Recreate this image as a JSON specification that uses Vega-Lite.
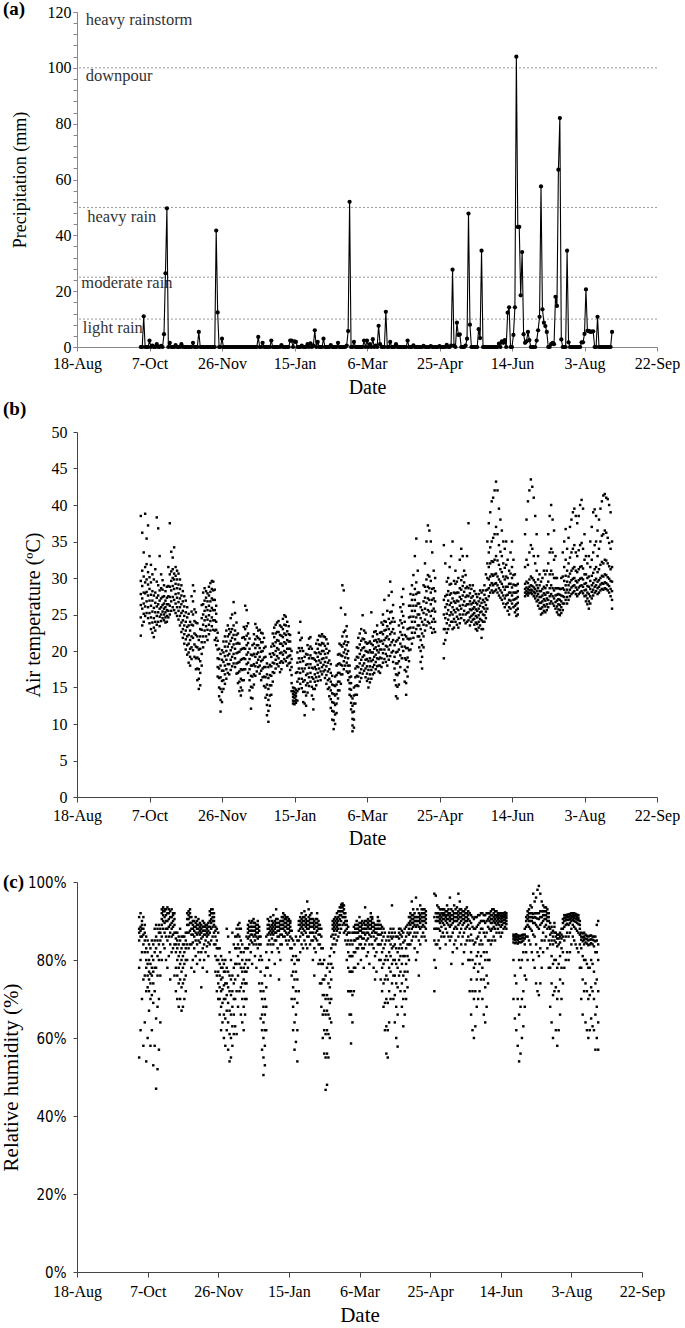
{
"$schema":"https://vega.github.io/schema/vega-lite/v6.json",
"background":"white",
"padding":{"left":0,"top":0,"right":2,"bottom":0},
"spacing":85,
"bounds":"flush",
"config":{"view":{"stroke":null},"font":"Liberation Serif","axis":{"grid":false,"labelFont":"Liberation Serif","titleFont":"Liberation Serif","titleFontWeight":"normal","labelColor":"#000","titleColor":"#000","labelFlush":false,"labelOverlap":false}},
"datasets":{
"lev":[{"v":10},{"v":25},{"v":50},{"v":100}],
"lab":[{"name":"heavy rainstorm","v":117,"d":"2014-08-24"},{"name":"downpour","v":97,"d":"2014-08-24"},{"name":"heavy rain","v":46.7,"d":"2014-08-25"},{"name":"moderate rain","v":22.8,"d":"2014-08-21"},{"name":"light rain","v":6.7,"d":"2014-08-22"}],
"days":[
{"d":"2014-10-01","p":0,"t":[22.1,24.6,26.3,27.8,29.6,38.5],"h":[55,78,85,87,88,91]},
{"d":"2014-10-02","p":0,"t":[23.5,25.8,27.2,28.9,31,36.2],"h":[62,80,86,87.5,88.5,92]},
{"d":"2014-10-03","p":11,"t":[24,25.1,26.5,28,30.2,33.5],"h":[70,82,86,88,89,90]},
{"d":"2014-10-04","p":0,"t":[24.8,26.1,27.9,29.4,31.5,38.8],"h":[58,75,84,86.5,88,91]},
{"d":"2014-10-05","p":0,"t":[25.2,26.8,28.1,29.8,31.9,35.4],"h":[64,76,82,85,87,89]},
{"d":"2014-10-06","p":0,"t":[24.5,26,27.6,29.1,30.8,37.2],"h":[54,72,78,80,83,86]},
{"d":"2014-10-07","p":2.3,"t":[23.8,25.2,26.9,28.5,30.1,33],"h":[60,73,76,79,82,85]},
{"d":"2014-10-08","p":0,"t":[23,24.6,26.2,27.7,29.4,31.8],"h":[67,72,75,77,80,84]},
{"d":"2014-10-09","p":0.5,"t":[22.5,23.9,25.4,26.9,28.2,30.5],"h":[58,70,74,76.5,79,83]},
{"d":"2014-10-10","p":0,"t":[21.9,23.2,24.5,25.9,27.6,29.8],"h":[62,71,76,78,81,85]},
{"d":"2014-10-11","p":0,"t":[22.8,24,25.3,26.6,28,31.2],"h":[53,69,74,77,80,84]},
{"d":"2014-10-12","p":1,"t":[23.6,24.8,26.1,27.3,29.5,38.3],"h":[58,72,78,82,85,88]},
{"d":"2014-10-13","p":0,"t":[24,25.3,26.4,27.6,29,36.8],"h":[47,65,78,83,86,89]},
{"d":"2014-10-14","p":0,"t":[23.4,24.7,25.8,26.9,28.3,33],"h":[52,68,76,81,85,88]},
{"d":"2014-10-15","p":0.4,"t":[24.1,25,26,27.2,28.6,30.5],"h":[57,70,80,84,87,89]},
{"d":"2014-10-16","p":0,"t":[24.5,25.4,26.3,27.4,28.4,29.7],"h":[64,76,82,85,87,88]},
{"d":"2014-10-17","p":4.6,"t":[24.2,25,25.8,26.5,27.5,29],"h":[80,86,89,90.5,92,93]},
{"d":"2014-10-18","p":26.4,"t":[23.9,24.6,25.3,26,26.9,28.2],"h":[84,88,90,91.5,92.5,93.5]},
{"d":"2014-10-19","p":49.7,"t":[24,24.8,25.6,26.4,27.3,28.8],"h":[83,87,89.5,91,92.5,93]},
{"d":"2014-10-20","p":0,"t":[24.6,25.5,26.4,27.5,28.9,31.5],"h":[80,86,88,90,91.5,93]},
{"d":"2014-10-21","p":1.5,"t":[25,26.2,27.4,28.8,30.5,37.5],"h":[78,85,88,90,92,93.5]},
{"d":"2014-10-22","p":0,"t":[25.5,26.8,28.3,29.6,30.9,33.6],"h":[81,86,88.5,90.5,92,93]},
{"d":"2014-10-23","p":0,"t":[26,27.4,28.9,30,31.2,32.8],"h":[75,84,87,89,91,92.5]},
{"d":"2014-10-24","p":0,"t":[25.6,27,28.5,29.8,30.6,34.2],"h":[82,86,88,89.5,91,93]},
{"d":"2014-10-25","p":0.7,"t":[25.2,26.5,27.8,29.2,30.3,31.5],"h":[83,86.5,88.5,90,91.5,92]},
{"d":"2014-10-26","p":0,"t":[24.8,26,27.3,28.6,29.8,31],"h":[76,84,87,89,90.5,92]},
{"d":"2014-10-27","p":0,"t":[24.3,25.5,26.7,27.9,29.1,30.6],"h":[72,78,82,84,85.5,87]},
{"d":"2014-10-28","p":0,"t":[23.5,24.8,26,27.2,28.5,29.8],"h":[70,76,80,83,85,87]},
{"d":"2014-10-29","p":1,"t":[22.6,23.9,25.2,26.4,27.6,29],"h":[68,74,78,81,84,86]},
{"d":"2014-10-30","p":0,"t":[21.8,23,24.2,25.5,26.8,28.2],"h":[70,75,79,82,85,88]},
{"d":"2014-10-31","p":0,"t":[21,22.3,23.5,24.8,26.1,27.5],"h":[67,73,77,80,83,86]},
{"d":"2014-11-01","p":0,"t":[20.2,21.6,22.8,24,25.3,26.9],"h":[68,74,78,81,84,86]},
{"d":"2014-11-02","p":0,"t":[19.5,20.8,22,23.3,24.6,26],"h":[70,75,79,82,84,86]},
{"d":"2014-11-03","p":0,"t":[18.4,19.8,21,22.2,23.5,25.1],"h":[72,76,80,83,85,87]},
{"d":"2014-11-04","p":0,"t":[18,19.2,20.3,21.5,22.8,24],"h":[80,84,87,89,90.5,92]},
{"d":"2014-11-05","p":0,"t":[18.9,20.5,22,23.6,25.4,27.5],"h":[83,87,89,90.5,91.5,92.5]},
{"d":"2014-11-06","p":1.5,"t":[20.1,21.8,23.5,25,26.8,29],"h":[84,87.5,89.5,91,92,93]},
{"d":"2014-11-07","p":0,"t":[19.2,20.9,22.4,24.1,25.7,28.2],"h":[78,84,86.5,88,89.5,91]},
{"d":"2014-11-08","p":0,"t":[17.5,19,20.6,22.2,23.9,25.3],"h":[80,84.5,86.5,88,89,90]},
{"d":"2014-11-09","p":0,"t":[16,17.6,19.1,20.5,22,23.8],"h":[77,83,86,87.5,88.5,90]},
{"d":"2014-11-10","p":5.4,"t":[14.8,16.2,17.5,18.9,20.2,21.5],"h":[81,85,87,88.5,89.5,91]},
{"d":"2014-11-11","p":0,"t":[15.3,17,18.6,20.3,22,23],"h":[79,84,86.5,88,89,90]},
{"d":"2014-11-12","p":0,"t":[18,19.6,21.2,22.9,24.5,26.3],"h":[82,85,87,88,89,90.5]},
{"d":"2014-11-13","p":0,"t":[20.5,22,23.6,25,26.4,28],"h":[80,84.5,86.5,87.5,88.5,89.5]},
{"d":"2014-11-14","p":0,"t":[21.2,22.8,24.2,25.5,26.9,28.6],"h":[73,82,85.5,87,88,89]},
{"d":"2014-11-15","p":0,"t":[22,23.4,24.7,26,27.3,28.2],"h":[78,83,86,87.5,88.5,90]},
{"d":"2014-11-16","p":0,"t":[21.5,22.9,24.3,25.6,26.8,27.9],"h":[80,84,86.5,87.5,88.5,89.5]},
{"d":"2014-11-17","p":0,"t":[22.3,23.6,24.9,26.2,27.6,28.8],"h":[82,85,86.5,87.5,88.5,89]},
{"d":"2014-11-18","p":0,"t":[22.8,24.1,25.5,26.8,28.1,29.3],"h":[77,83.5,86,87,88,89]},
{"d":"2014-11-19","p":0,"t":[23.4,24.6,25.9,27.2,28.5,29.6],"h":[81,84.5,86.5,87.5,88.5,89.5]},
{"d":"2014-11-20","p":0,"t":[22.9,24.2,25.6,27,28.3,29.5],"h":[84,87,88.5,90,91.5,92.5]},
{"d":"2014-11-21","p":0,"t":[21.5,22.8,24.2,25.6,27,28.4],"h":[85,88,89.5,90.5,92,93]},
{"d":"2014-11-22","p":41.7,"t":[20.8,21.8,22.9,24,25.1,26.2],"h":[86,88.5,90,91,92,93]},
{"d":"2014-11-23","p":12.4,"t":[16.5,17.8,19,20.2,21.4,22.5],"h":[84,87,89,90,91,92]},
{"d":"2014-11-24","p":0,"t":[13.8,15,16.3,17.6,18.9,20.3],"h":[77,81,84,86,87.5,88.5]},
{"d":"2014-11-25","p":0,"t":[11.7,13.3,14.8,16.4,18,19.6],"h":[72,76,80,83,85,88]},
{"d":"2014-11-26","p":3,"t":[13,14.4,15.9,17.3,18.8,20.1],"h":[70,74,77,80,83,87]},
{"d":"2014-11-27","p":0,"t":[14.8,16,17.3,18.5,19.8,21.3],"h":[66,70,73,76,79,83]},
{"d":"2014-11-28","p":0,"t":[15.5,16.8,18,19.3,20.6,22],"h":[62,68,72,75,78,81]},
{"d":"2014-11-29","p":0,"t":[16.2,17.5,18.8,20,21.3,22.8],"h":[64,69,72.5,75.5,78,80]},
{"d":"2014-11-30","p":0,"t":[17,18.2,19.4,20.6,22,23.5],"h":[60,66,70,73.5,77,79]},
{"d":"2014-12-01","p":0,"t":[16.8,18.2,19.6,21,22.3,23],"h":[58,65,70,74,77,80]},
{"d":"2014-12-02","p":0,"t":[17.4,18.8,20.1,21.4,22.6,24.5],"h":[62,67,71,74,78,88]},
{"d":"2014-12-03","p":0,"t":[17.9,19.2,20.5,21.8,23,25],"h":[57,64,69,73,77,86]},
{"d":"2014-12-04","p":0,"t":[18.3,19.6,20.9,22.2,23.5,26.7],"h":[54,61,67,72,76,82]},
{"d":"2014-12-05","p":0,"t":[17.8,19,20.3,21.6,22.8,25.2],"h":[55,60,66,71,75,80]},
{"d":"2014-12-06","p":0,"t":[16.9,18.3,19.7,21,22.2,23.9],"h":[58,63,68,72,76,87]},
{"d":"2014-12-07","p":0,"t":[15.6,17,18.4,19.8,21.1,22.4],"h":[61,66,70,74,78,84]},
{"d":"2014-12-08","p":0,"t":[14.5,15.8,17.2,18.5,19.9,21],"h":[63,70,75,79,83,86]},
{"d":"2014-12-09","p":0,"t":[13.9,15,16.2,17.5,18.8,20.2],"h":[61,72,79,83,86,88]},
{"d":"2014-12-10","p":0,"t":[14.6,16,17.4,18.9,20.3,21.8],"h":[68,76,81,84,86.5,89]},
{"d":"2014-12-11","p":0,"t":[16,17.5,19,20.4,21.9,23.3],"h":[72,79,83,86,88,89.5]},
{"d":"2014-12-12","p":0,"t":[17.5,18.9,20.3,21.6,23,26.2],"h":[66,73,78,82,85,88]},
{"d":"2014-12-13","p":0,"t":[18.2,19.5,20.8,22.1,23.4,25.6],"h":[64,70,74,77,80,84]},
{"d":"2014-12-14","p":0,"t":[17,18.4,19.8,21.1,22.4,23.8],"h":[62,68,72,75,78,82]},
{"d":"2014-12-15","p":0,"t":[14.6,16,17.5,18.9,20.3,21.7],"h":[66,70,74,77,79,83]},
{"d":"2014-12-16","p":0,"t":[12.1,13.6,15.1,16.6,18,19.5],"h":[70,74,77,80,83,86]},
{"d":"2014-12-17","p":0,"t":[13.5,15,16.5,18,19.4,20.8],"h":[78,83,85.5,87,88,89]},
{"d":"2014-12-18","p":0,"t":[15.4,16.8,18.2,19.6,21,22.3],"h":[80,84,86,87.5,88.5,90]},
{"d":"2014-12-19","p":0,"t":[16.6,17.9,19.2,20.4,21.6,23.7],"h":[82,85,86.5,87.5,88.5,89.5]},
{"d":"2014-12-20","p":0,"t":[17.2,18.4,19.6,20.8,22,23.2],"h":[79,84.5,86.5,87.5,88.5,90]},
{"d":"2014-12-21","p":3.6,"t":[17.8,18.8,19.8,20.8,21.8,22.8],"h":[84,86,87.5,88.5,89.5,90.5]},
{"d":"2014-12-22","p":0,"t":[16.9,18,19.2,20.4,21.6,22.9],"h":[81,85,86.5,87.5,88.5,89.5]},
{"d":"2014-12-23","p":0,"t":[16,17.3,18.6,19.9,21.2,22.5],"h":[78,84,86,87,88,89]},
{"d":"2014-12-24","p":1.5,"t":[16.4,17.6,18.8,20,21.2,22.4],"h":[83,85.5,87,88,89,90]},
{"d":"2014-12-25","p":0,"t":[15.2,16.5,17.8,19.1,20.4,21.8],"h":[74,80,84,86,87.5,88.5]},
{"d":"2014-12-26","p":0,"t":[13.6,15,16.4,17.8,19.2,20.6],"h":[65,72,77,81,84,86]},
{"d":"2014-12-27","p":0,"t":[11.2,12.6,14,15.4,16.8,18.3],"h":[57,62,66,70,74,80]},
{"d":"2014-12-28","p":0,"t":[10.3,11.8,13.3,14.8,16.3,17.8],"h":[50.5,55,60,64,68,72]},
{"d":"2014-12-29","p":0,"t":[12.5,13.9,15.3,16.7,18.1,19.6],"h":[53,58,62,66,70,76]},
{"d":"2014-12-30","p":2.3,"t":[14,15.3,16.6,17.9,19.2,20.6],"h":[62,68,73,78,82,86]},
{"d":"2014-12-31","p":0,"t":[15.8,17.1,18.4,19.7,21,22.4],"h":[78,84,86.5,88,89,90.5]},
{"d":"2015-01-01","p":0,"t":[17,18.3,19.5,20.7,21.9,23.2],"h":[80,85,87,88,89,90]},
{"d":"2015-01-02","p":0,"t":[17.6,18.8,20,21.2,22.4,23.6],"h":[76,84,86.5,87.5,88.5,91]},
{"d":"2015-01-03","p":0,"t":[18.2,19.3,20.4,21.5,22.6,23.9],"h":[82,85.5,87,88,89,90]},
{"d":"2015-01-04","p":0,"t":[17.9,19,20.2,21.4,22.6,24.1],"h":[84,86.5,87.5,88.5,89.5,91.5]},
{"d":"2015-01-05","p":0,"t":[17.1,18.4,19.7,21,22.2,23.5],"h":[79,85,87,88,89,90]},
{"d":"2015-01-06","p":0.7,"t":[17.5,18.6,19.8,21,22.1,23.3],"h":[85,87,88.5,89.5,90.5,93]},
{"d":"2015-01-07","p":0,"t":[18.4,19.5,20.7,21.9,23,24.4],"h":[83,86,87.5,88.5,89.5,90.5]},
{"d":"2015-01-08","p":0,"t":[18.9,20,21.2,22.4,23.6,24.9],"h":[75,82,86,87.5,88.5,89.5]},
{"d":"2015-01-09","p":0,"t":[18.6,19.8,21,22.2,23.5,24.7],"h":[80,84,86.5,88,89,90]},
{"d":"2015-01-10","p":0,"t":[18,19.1,20.3,21.5,22.7,24],"h":[84,86.5,88,89,90,91]},
{"d":"2015-01-11","p":0,"t":[18.3,19.3,20.3,21.3,22.3,23.4],"h":[86,88,89,90,91,92]},
{"d":"2015-01-12","p":2.3,"t":[17.4,18.4,19.4,20.3,21.3,22.2],"h":[86,87.5,88.5,89.5,90.5,91.5]},
{"d":"2015-01-13","p":2.3,"t":[14.5,15.6,16.7,17.8,18.9,20],"h":[85,87,88.5,89.5,90.5,91]},
{"d":"2015-01-14","p":0,"t":[12.8,13.2,13.7,14.1,14.5,15],"h":[84,86.5,88,89,90,91]},
{"d":"2015-01-15","p":2,"t":[12.7,13.1,13.6,14,14.4,14.9],"h":[85,87,88,89,90,90.5]},
{"d":"2015-01-16","p":1.8,"t":[12.9,13.3,13.8,14.2,14.7,17],"h":[83,86,87.5,88.5,89.5,90]},
{"d":"2015-01-17","p":0,"t":[13.2,14.5,15.8,17.1,18.4,19.8],"h":[70,76,80,83,85.5,87.5]},
{"d":"2015-01-18","p":0,"t":[14.8,16.2,17.6,19,20.4,22.5],"h":[62,68,73,77,81,85]},
{"d":"2015-01-19","p":0,"t":[15.5,17,18.5,20,21.5,24],"h":[57,64,70,75,79,84]},
{"d":"2015-01-20","p":0.5,"t":[14.9,16.2,17.6,19,20.4,21.8],"h":[59,66,72,77,81,86]},
{"d":"2015-01-21","p":0,"t":[13,14.4,15.8,17.2,18.6,20],"h":[54,62,69,75,80,85]},
{"d":"2015-01-22","p":0,"t":[11.2,12.8,14.4,16,17.6,19.2],"h":[72,80,85,87.5,89,90]},
{"d":"2015-01-23","p":0,"t":[12.5,13.9,15.3,16.7,18.1,19.6],"h":[82,86,88,89,90,91]},
{"d":"2015-01-24","p":1,"t":[14.3,15.6,16.9,18.2,19.5,20.8],"h":[84,87,88.5,89.5,90.5,92]},
{"d":"2015-01-25","p":0,"t":[15.2,16.4,17.7,19,20.3,21.7],"h":[83,86.5,88,89,90,91]},
{"d":"2015-01-26","p":1.3,"t":[15.8,17,18.2,19.4,20.6,21.9],"h":[85,87.5,89,90,91,92.5]},
{"d":"2015-01-27","p":0,"t":[13.9,15.1,16.4,17.7,19,20.3],"h":[84,87,88.5,89.5,90.5,91.5]},
{"d":"2015-01-28","p":0.5,"t":[12,13.4,14.8,16.2,17.6,19],"h":[83,86,88,89,90,95]},
{"d":"2015-01-29","p":6,"t":[14.8,15.8,16.8,17.8,18.8,19.8],"h":[86,88,89,90,91,93]},
{"d":"2015-01-30","p":0,"t":[15.3,16.4,17.5,18.6,19.7,21],"h":[84,87,88.5,89.5,90.5,91.5]},
{"d":"2015-01-31","p":1.8,"t":[15.9,17,18.1,19.2,20.3,21.5],"h":[85,87,88.5,89.5,90.5,92]},
{"d":"2015-02-01","p":0,"t":[16.5,17.6,18.7,19.8,20.9,22.1],"h":[80,85,87,88.5,89.5,90.5]},
{"d":"2015-02-02","p":0,"t":[16,17.2,18.4,19.6,20.8,22],"h":[76,83,86,88,89,90]},
{"d":"2015-02-03","p":0,"t":[16.8,17.8,18.9,20,21.1,22.3],"h":[82,85.5,87,88.5,89.5,90.5]},
{"d":"2015-02-04","p":3,"t":[17.2,18.1,19,20,21,22],"h":[85,87.5,88.5,89.5,90.5,92]},
{"d":"2015-02-05","p":0,"t":[16.3,17.4,18.5,19.6,20.7,21.9],"h":[79,84,86.5,88,89,90]},
{"d":"2015-02-06","p":0,"t":[15.5,16.7,17.9,19.1,20.3,21.6],"h":[74,80,84,86.5,88,89]},
{"d":"2015-02-07","p":0,"t":[14.8,16,17.2,18.4,19.7,21],"h":[68,74,79,83,86,88]},
{"d":"2015-02-08","p":0,"t":[13.8,15,16.2,17.5,18.7,20],"h":[60,66,71,75,79,83]},
{"d":"2015-02-09","p":0.7,"t":[12.2,13.4,14.6,15.8,17,18.2],"h":[56,62,67,71,75,80]},
{"d":"2015-02-10","p":0,"t":[10.6,11.8,13,14.2,15.4,16.6],"h":[46.7,55,61,66,70,76]},
{"d":"2015-02-11","p":0,"t":[9.3,10.5,11.7,12.9,14.1,15.3],"h":[48,56,62,67,71,78]},
{"d":"2015-02-12","p":0,"t":[10,11.3,12.6,13.9,15.2,16.5],"h":[55,61,66,70,74,79]},
{"d":"2015-02-13","p":0,"t":[11.5,12.8,14.1,15.4,16.7,18],"h":[60,65,69,73,77,81]},
{"d":"2015-02-14","p":1.5,"t":[13.5,14.6,15.8,17,18.2,19.5],"h":[64,70,75,79,83,86]},
{"d":"2015-02-15","p":0,"t":[14.6,15.8,17,18.3,19.6,21],"h":[78,84,86.5,88,89,90]},
{"d":"2015-02-16","p":0,"t":[15.5,16.8,18.1,19.4,20.8,25.9],"h":[82,85.5,87.5,88.5,89.5,90.5]},
{"d":"2015-02-17","p":0,"t":[16.8,18,19.3,20.6,22,29],"h":[84,86.5,88,89,90,91]},
{"d":"2015-02-18","p":0,"t":[17.5,18.6,19.8,21,22.6,28.3],"h":[85,87.5,88.5,89.5,90.5,92]},
{"d":"2015-02-19","p":0,"t":[18,19.1,20.2,21.3,22.8,25],"h":[86,88,89,90,91,92.5]},
{"d":"2015-02-20","p":0.5,"t":[17.2,18.4,19.6,20.8,22,23.4],"h":[87,89,90.5,91.5,92.5,93.5]},
{"d":"2015-02-21","p":5.7,"t":[16,17,18,19,20,21.2],"h":[88,90,91.5,92.5,93.5,94.2]},
{"d":"2015-02-22","p":52,"t":[14,14.8,15.6,16.4,17.2,18],"h":[89,91,92.5,93.5,94,94.5]},
{"d":"2015-02-23","p":0,"t":[12,12.9,13.8,14.7,15.6,16.5],"h":[87,89.5,91,92,93,94]},
{"d":"2015-02-24","p":0,"t":[9,9.8,10.7,11.6,12.5,13.5],"h":[85,87.5,89,90,91,92]},
{"d":"2015-02-25","p":1.8,"t":[9.5,10.6,11.7,12.8,13.9,15],"h":[80,84,86.5,88,89,90]},
{"d":"2015-02-26","p":0,"t":[12.8,14,15.2,16.4,17.6,18.8],"h":[72,78,82,85,87,88.5]},
{"d":"2015-02-27","p":0,"t":[14,15.3,16.6,17.9,19.2,20.5],"h":[66,72,77,81,84,87]},
{"d":"2015-02-28","p":0,"t":[15.2,16.5,17.8,19.1,20.4,21.8],"h":[58.6,66,72,77,81,85]},
{"d":"2015-03-01","p":0,"t":[15.8,17,18.3,19.6,20.9,22.4],"h":[64,71,77,81,84,87]},
{"d":"2015-03-02","p":0,"t":[16.3,17.5,18.8,20.1,21.4,23],"h":[72,78,82,85,87,88.5]},
{"d":"2015-03-03","p":0,"t":[16.9,18,19.2,20.4,21.7,24.9],"h":[78,82,85,87,88,89]},
{"d":"2015-03-04","p":2.3,"t":[17.3,18.3,19.4,20.5,21.6,22.8],"h":[83,85.5,87,88,89,90]},
{"d":"2015-03-05","p":0,"t":[16.4,17.6,18.8,20,21.2,22.5],"h":[79,83,85.5,87,88,89]},
{"d":"2015-03-06","p":2.3,"t":[15.9,16.9,17.9,18.9,19.9,21],"h":[84,86,87.5,88.5,89.5,91]},
{"d":"2015-03-07","p":0,"t":[15,16.2,17.4,18.6,19.8,21.1],"h":[80,84,86,87.5,88.5,89.5]},
{"d":"2015-03-08","p":1,"t":[15.7,16.8,17.9,19,20.1,21.3],"h":[83,85.5,87,88,89,90]},
{"d":"2015-03-09","p":0,"t":[16.2,17.4,18.6,19.8,21,25.3],"h":[78,83,85.5,87,88,89.5]},
{"d":"2015-03-10","p":2.8,"t":[16.8,17.8,18.8,19.8,20.8,22],"h":[84,86.5,88,89,90,93.5]},
{"d":"2015-03-11","p":0,"t":[17,18.1,19.2,20.3,21.4,22.6],"h":[81,85,87,88,89,90]},
{"d":"2015-03-12","p":0.5,"t":[17.5,18.5,19.5,20.5,21.5,22.7],"h":[82,85.5,87,88.5,89.5,90.5]},
{"d":"2015-03-13","p":0,"t":[17.9,19,20.1,21.2,22.3,23.5],"h":[79,84,86.5,88,89,90]},
{"d":"2015-03-14","p":7.6,"t":[17.2,18,18.9,19.8,20.7,21.6],"h":[86,88,89,90,91,92]},
{"d":"2015-03-15","p":1,"t":[17,18,19.1,20.2,21.3,22.5],"h":[84,87,88.5,89.5,90.5,91]},
{"d":"2015-03-16","p":0,"t":[17.8,19,20.2,21.4,22.6,23.9],"h":[78,83,86,87.5,88.5,89.5]},
{"d":"2015-03-17","p":0,"t":[18.4,19.7,21,22.3,23.6,25],"h":[75,81,85,87,88,89]},
{"d":"2015-03-18","p":0,"t":[18.9,20.2,21.5,22.8,24.1,27],"h":[77,82,85.5,87,88,89]},
{"d":"2015-03-19","p":12.6,"t":[18.5,19.6,20.7,21.8,22.9,24],"h":[84,86.5,88,89,90,91]},
{"d":"2015-03-20","p":0,"t":[18,19.3,20.6,22,23.4,25.5],"h":[80,84,86.5,88,89,90]},
{"d":"2015-03-21","p":0,"t":[18.8,20.2,21.6,23,24.4,27.6],"h":[75,80,84,86.5,88,89]},
{"d":"2015-03-22","p":1.8,"t":[19.3,20.8,22.3,23.8,25.3,29.5],"h":[72,78,82,85,87,88.5]},
{"d":"2015-03-23","p":0,"t":[19.8,21.2,22.6,24,25.4,28.1],"h":[68,74,79,83,86,88]},
{"d":"2015-03-24","p":0,"t":[18.5,20,21.5,23,24.5,26.3],"h":[62,69,75,80,84,87]},
{"d":"2015-03-25","p":0,"t":[16,17.6,19.2,20.8,22.4,24],"h":[56,63,70,76,81,85]},
{"d":"2015-03-26","p":1,"t":[13.8,15.3,16.8,18.3,19.8,21.3],"h":[55,62,69,75,80,86]},
{"d":"2015-03-27","p":0,"t":[13.5,15.1,16.7,18.3,19.9,21.5],"h":[64,72,78,82,85,87]},
{"d":"2015-03-28","p":0,"t":[15.4,17,18.6,20.2,21.8,23.5],"h":[70,77,81,84,86,88]},
{"d":"2015-03-29","p":0,"t":[17.8,19.4,21,22.6,24.2,26],"h":[74,79,83,85.5,87,94]},
{"d":"2015-03-30","p":0,"t":[19,20.6,22.2,23.8,25.4,27.4],"h":[70,76,80,83.5,86,88]},
{"d":"2015-03-31","p":0,"t":[20,21.6,23.2,24.8,26.4,28.5],"h":[64,71,76,80,84,87]},
{"d":"2015-04-01","p":0,"t":[15.8,17.4,19,20.6,22.2,24],"h":[60,68,74,79,83,86]},
{"d":"2015-04-02","p":0,"t":[14,15.6,17.2,18.8,20.4,22],"h":[57.8,66,73,78,82,86]},
{"d":"2015-04-03","p":2.3,"t":[16.5,17.8,19.1,20.4,21.7,23],"h":[76,80,83,85.5,87,88]},
{"d":"2015-04-04","p":0,"t":[18.6,20.1,21.6,23.1,24.6,26.2],"h":[72,77,81,84,86.5,88]},
{"d":"2015-04-05","p":0,"t":[20.2,21.7,23.2,24.7,26.2,27.8],"h":[68,74,79,83,86,87.5]},
{"d":"2015-04-06","p":0,"t":[21,22.5,24,25.5,27,29],"h":[63,70,76,81,84.5,87]},
{"d":"2015-04-07","p":0.6,"t":[21.8,23.2,24.7,26.2,27.7,30.4],"h":[66,72,77,81,85,88]},
{"d":"2015-04-08","p":0,"t":[22.5,24,25.5,27,28.5,33],"h":[70,75,79,83,86,88.5]},
{"d":"2015-04-09","p":0,"t":[23,24.6,26.2,27.8,29.4,35.4],"h":[73,77,81,84,87,89]},
{"d":"2015-04-10","p":0,"t":[22,23.5,25,26.5,28,31],"h":[80,84,86.5,88,89.5,91]},
{"d":"2015-04-11","p":0,"t":[20.5,22,23.5,25,26.5,28],"h":[84,87,89,90,91,92]},
{"d":"2015-04-12","p":0,"t":[18.5,20,21.5,23,24.5,26],"h":[85,88,89.5,90.5,91.5,95]},
{"d":"2015-04-13","p":0,"t":[17.6,19.2,20.8,22.4,24,25.6],"h":[86,88.5,89.5,90.5,91.5,93]},
{"d":"2015-04-14","p":0.4,"t":[20.5,22,23.6,25.2,26.8,29],"h":[83,87,89,90,91,92]},
{"d":"2015-04-15","p":0,"t":[22.8,24.3,25.8,27.3,28.8,32],"h":[80,86,88.5,90,91,96]},
{"d":"2015-04-16","p":0,"t":[23.5,25,26.6,28.2,29.8,35],"h":[82,87,89,90,91,93]},
{"d":"2015-04-17","p":0,"t":[24,25.6,27.2,28.8,30.4,37.2],"h":[76,85,88.5,90,91,92]},
{"d":"2015-04-18","p":0,"t":[23.8,25.4,27,28.6,30.2,36.5],"h":[84,88,89.5,90.5,91.5,94]},
{"d":"2015-04-19","p":0.3,"t":[23.2,24.8,26.4,28,29.6,35],"h":[86,88.5,90,91,92,93]},
{"d":"2015-04-20","p":0,"t":[22.5,24,25.5,27,28.5,33.5],"h":[87,89,90,91,92,93]},
{"d":"2015-04-21","p":0,"t":[23,24.4,25.8,27.2,28.6,31],"h":[86,88.5,90,91,92,93]},
{"d":"2015-04-22","p":0,"t":[22.6,24,25.4,26.8,28.2,30],"h":[85,88,89.5,90.5,91.5,92.5]},
{"d":"2015-04-23","p":0,"t":[],"h":[]},
{"d":"2015-04-24","p":0,"t":[],"h":[]},
{"d":"2015-04-25","p":0.3,"t":[],"h":[]},
{"d":"2015-04-26","p":0,"t":[],"h":[]},
{"d":"2015-04-27","p":0,"t":[],"h":[]},
{"d":"2015-04-28","p":0,"t":[19,21,23,25,27,34.5],"h":[72,80,85,88,91,97]},
{"d":"2015-04-29","p":0,"t":[21.5,23,24.5,26,27.5,32],"h":[78,84,88,90,92,96.5]},
{"d":"2015-04-30","p":0.8,"t":[22.5,23.8,25.1,26.4,27.7,29.5],"h":[84,88,90,91,92,94]},
{"d":"2015-05-01","p":0,"t":[23,24.3,25.6,26.9,28.2,30],"h":[85,88,90,91,92,93.5]},
{"d":"2015-05-02","p":0,"t":[23.5,24.9,26.3,27.7,29.1,31.5],"h":[83,87.5,89.5,90.5,91.5,93]},
{"d":"2015-05-03","p":0.5,"t":[24,25.3,26.6,27.9,29.2,33],"h":[86,88.5,90,91,92,93]},
{"d":"2015-05-04","p":27.7,"t":[23,24,25,26,27.2,35],"h":[87,89.5,90.5,91.5,92,93]},
{"d":"2015-05-05","p":0.5,"t":[23.2,24.4,25.6,26.8,28,29.6],"h":[86,89,90.5,91.5,92,93]},
{"d":"2015-05-06","p":0,"t":[24,25.3,26.6,27.9,29.2,31],"h":[84,88,90,91,91.5,92.5]},
{"d":"2015-05-07","p":8.7,"t":[23.6,24.7,25.8,26.9,28,29.5],"h":[87,89.5,90.5,91.5,92.5,94]},
{"d":"2015-05-08","p":4.3,"t":[23.2,24.4,25.6,26.8,28,30],"h":[86,89,90.5,91.5,92,93]},
{"d":"2015-05-09","p":4.5,"t":[23.8,25,26.2,27.4,28.6,32.5],"h":[85,88.5,90,91,92,96]},
{"d":"2015-05-10","p":0,"t":[24.5,25.8,27.1,28.4,29.7,34],"h":[79,86,89,90.5,91.5,93]},
{"d":"2015-05-11","p":0,"t":[25,26.3,27.6,28.9,30.2,33],"h":[82,87,89.5,90.5,91.5,92.5]},
{"d":"2015-05-12","p":0,"t":[24.2,25.5,26.8,28.1,29.4,31],"h":[84,88,90,91,92,94]},
{"d":"2015-05-13","p":0.5,"t":[23.8,25,26.2,27.4,28.6,30.4],"h":[85,88.5,90,91,92,93]},
{"d":"2015-05-14","p":3,"t":[24,25.2,26.4,27.6,28.8,33],"h":[83,88,90,91,92,93.5]},
{"d":"2015-05-15","p":47.8,"t":[24.2,25.3,26.4,27.5,28.6,37.5],"h":[86,89,90.5,91.5,92.5,97]},
{"d":"2015-05-16","p":8,"t":[23.5,24.6,25.7,26.8,27.9,29],"h":[87,89.5,91,92,93,95]},
{"d":"2015-05-17","p":0,"t":[24,24.8,25.6,26.4,27.3,28.5],"h":[84,88,90,91,92,93]},
{"d":"2015-05-18","p":0,"t":[24.3,25,25.8,26.6,27.5,29],"h":[79,86,89,90.5,91.5,92.5]},
{"d":"2015-05-19","p":0,"t":[23.6,24.4,25.2,26,26.9,28.2],"h":[82,87,89.5,90.5,91.5,92.5]},
{"d":"2015-05-20","p":0,"t":[23,23.9,24.8,25.7,26.6,27.8],"h":[84,88,90,91,92,93]},
{"d":"2015-05-21","p":0,"t":[22.8,23.7,24.6,25.5,26.4,27.4],"h":[85,88.5,90,91,92,93.5]},
{"d":"2015-05-22","p":6.4,"t":[23.2,24,24.9,25.8,26.8,27.8],"h":[80,86,89,90.5,91.5,92.5]},
{"d":"2015-05-23","p":3.2,"t":[23.5,24.4,25.3,26.2,27.2,28.3],"h":[72,80,85,88,90,92]},
{"d":"2015-05-24","p":34.5,"t":[21.8,23,24.2,25.4,26.6,28],"h":[66,75,82,86.5,89.5,91.5]},
{"d":"2015-05-25","p":0,"t":[23,24,25,26,27,28.3],"h":[62,72,80,85,88.5,91]},
{"d":"2015-05-26","p":0,"t":[24,24.9,25.8,26.7,27.7,29],"h":[60,70,78,84,88,90.5]},
{"d":"2015-05-27","p":0,"t":[24.5,25.4,26.3,27.2,28.3,30.5],"h":[63,72,79,84.5,88,91]},
{"d":"2015-05-28","p":0,"t":[25.8,27,28.4,30,32,35],"h":[68,75,81,85.5,88.5,91]},
{"d":"2015-05-29","p":0,"t":[27.5,28.6,29.8,31.5,33.5,37.5],"h":[70,77,82,86,89,91.5]},
{"d":"2015-05-30","p":0,"t":[28,29,30.2,32,34.2,39],"h":[72,79,84,87,89.5,91.5]},
{"d":"2015-05-31","p":0,"t":[28.3,29.3,30.5,32.3,35,40.5],"h":[75,81,85,88,90,92]},
{"d":"2015-06-01","p":0,"t":[28,29,30.3,32.2,35.5,41],"h":[70,78,84,88,90,92]},
{"d":"2015-06-02","p":0,"t":[28.2,29.2,30.5,32.5,36,42],"h":[66,75,82,87,90,91.5]},
{"d":"2015-06-03","p":0,"t":[28.4,29.3,30.6,33,37,43.2],"h":[64,73,80,86,89.5,91.5]},
{"d":"2015-06-04","p":0,"t":[28,29,30.2,32.4,36,42],"h":[68,76,82,87,90,92]},
{"d":"2015-06-05","p":1.2,"t":[27.6,28.6,29.8,31.8,34.5,39.5],"h":[74,80,85,88.5,90.5,92]},
{"d":"2015-06-06","p":0,"t":[27.3,28.3,29.5,31.2,33.6,38],"h":[80,85,88,90,91,92]},
{"d":"2015-06-07","p":2,"t":[27,28,29.2,30.8,33,36.5],"h":[84,87.5,89.5,90.5,91.5,92.5]},
{"d":"2015-06-08","p":1.5,"t":[26.5,27.6,28.8,30.2,32,35],"h":[85,88,89.5,90.5,91.5,93]},
{"d":"2015-06-09","p":2.5,"t":[26,27.2,28.4,29.8,31.4,34],"h":[86,88.5,90,91,92,93]},
{"d":"2015-06-10","p":0,"t":[26.4,27.6,28.8,30.2,31.8,35],"h":[85,88,89.5,90.5,91.5,92.5]},
{"d":"2015-06-11","p":12.3,"t":[25.5,26.6,27.7,28.8,30,32.5],"h":[87,89,90,91,91.5,92.5]},
{"d":"2015-06-12","p":14.2,"t":[25,26,27,28,29.2,31],"h":[88,89.5,90.5,91,91.5,92]},
{"d":"2015-06-13","p":0,"t":[25.8,26.9,28,29.2,30.6,33.5],"h":[87,89,90,90.8,91.5,92]},
{"d":"2015-06-14","p":0,"t":[26.5,27.6,28.7,30,31.5,35],"h":[86,88.5,89.8,90.6,91.3,92]},
{"d":"2015-06-15","p":4.3,"t":[26,27,28,29.1,30.4,32.5],"h":[87,89,90,90.8,91.4,92]},
{"d":"2015-06-16","p":14.2,"t":[25.3,26.2,27.1,28,29,30.5],"h":[88,89.5,90.3,91,91.5,92]},
{"d":"2015-06-17","p":104,"t":[24.8,25.6,26.4,27.2,28,29],"h":[88.5,89.5,90.3,91,91.6,92.2]},
{"d":"2015-06-18","p":43,"t":[25,25.8,26.6,27.4,28.2,29.2],"h":[88,89.2,90,90.8,91.4,92]},
{"d":"2015-06-19","p":43,"t":[],"h":[]},
{"d":"2015-06-20","p":18.5,"t":[],"h":[]},
{"d":"2015-06-21","p":34,"t":[],"h":[]},
{"d":"2015-06-22","p":4.6,"t":[],"h":[]},
{"d":"2015-06-23","p":1.5,"t":[27.5,28,28.5,29.2,31.5,36],"h":[70,80,84.5,85.3,86,86.5]},
{"d":"2015-06-24","p":2,"t":[27.8,28.2,28.7,29.5,32.5,38],"h":[65,76,84.3,85.2,85.8,86.4]},
{"d":"2015-06-25","p":5.4,"t":[27.6,28,28.5,29.3,31.8,40.5],"h":[62,74,84.5,85.3,86,86.6]},
{"d":"2015-06-26","p":2.5,"t":[27.9,28.3,28.8,29.8,33.5,42],"h":[58,70,84.2,85.1,85.8,86.3]},
{"d":"2015-06-27","p":0,"t":[28,28.4,29,30.2,34.5,43.5],"h":[54,66,80,84.6,85.5,86.2]},
{"d":"2015-06-28","p":0,"t":[27.8,28.3,28.9,30,34,42.5],"h":[56,68,78,84.5,85.4,86.2]},
{"d":"2015-06-29","p":0,"t":[27.5,28.1,28.7,29.7,33,41],"h":[60,70,80,84.7,85.6,86.4]},
{"d":"2015-06-30","p":0,"t":[27.2,27.9,28.5,29.4,32,38.5],"h":[63,72,82,85,85.8,86.5]},
{"d":"2015-07-01","p":2.3,"t":[26.8,27.5,28.2,29,31,36],"h":[68,76,84,85.5,86.5,88]},
{"d":"2015-07-02","p":6,"t":[26.2,27,27.8,28.6,29.8,33],"h":[75,82,86,88.5,90,91]},
{"d":"2015-07-03","p":10.8,"t":[25.8,26.6,27.4,28.2,29,30.5],"h":[80,86,89,90.5,91.5,92.5]},
{"d":"2015-07-04","p":57.5,"t":[25,25.8,26.6,27.4,28.2,29.5],"h":[85,88.5,90,91,92,93]},
{"d":"2015-07-05","p":13.5,"t":[25.2,26,26.8,27.6,28.5,30],"h":[84,88,90,91,92,94]},
{"d":"2015-07-06","p":8.7,"t":[25.5,26.3,27.1,27.9,28.8,31],"h":[82,87.5,90,91,92,93.5]},
{"d":"2015-07-07","p":7.5,"t":[25.3,26.1,26.9,27.7,28.6,30.5],"h":[80,86.5,89.5,90.8,91.8,97]},
{"d":"2015-07-08","p":5.4,"t":[25.6,26.4,27.2,28,29,31],"h":[78,86,89.5,91,92,95]},
{"d":"2015-07-09","p":0,"t":[26,27,28,29.5,32,36],"h":[74,84,89,90.8,92,96]},
{"d":"2015-07-10","p":0,"t":[26.5,27.5,28.6,30.5,33.5,38.5],"h":[72,82,88.5,90.6,92,98]},
{"d":"2015-07-11","p":1,"t":[26.8,27.8,29,31,34,40],"h":[71,81,88,90.5,92,99]},
{"d":"2015-07-12","p":1.5,"t":[26.5,27.5,28.6,30.5,33.5,38],"h":[74,83,89,91,92.5,97]},
{"d":"2015-07-13","p":1,"t":[26.2,27.2,28.3,30,32.5,36.5],"h":[78,85,89.5,91,92.5,95]},
{"d":"2015-07-14","p":18,"t":[25.8,26.7,27.6,28.6,30,33],"h":[82,87,90,91.5,92.5,94]},
{"d":"2015-07-15","p":14.7,"t":[25.3,26.1,26.9,27.7,28.6,30],"h":[85,88.5,90.5,91.5,92.5,93.5]},
{"d":"2015-07-16","p":63.5,"t":[25,25.7,26.4,27.1,27.8,28.6],"h":[86,89,90.5,91.5,92.5,93.5]},
{"d":"2015-07-17","p":82,"t":[24.9,25.6,26.3,27,27.7,28.5],"h":[83,88,90,91,92,93]},
{"d":"2015-07-18","p":2.7,"t":[25.2,26,26.8,27.6,28.5,30],"h":[78,85,88.5,90,91,92]},
{"d":"2015-07-19","p":0,"t":[25.6,26.5,27.5,28.6,30.2,33.5],"h":[68,78,84,86.5,88,89.5]},
{"d":"2015-07-20","p":0,"t":[26.5,27.4,28.4,29.6,31.5,35],"h":[64,74,81,85,87,88.5]},
{"d":"2015-07-21","p":0,"t":[27,28,29,30.3,32.5,36.7],"h":[60,71,79,84,86,87.5]},
{"d":"2015-07-22","p":34.5,"t":[26.5,27.4,28.4,29.5,31,34],"h":[72,80,85,87,88.5,89.5]},
{"d":"2015-07-23","p":1.7,"t":[27,28,29,30.2,32,35.5],"h":[62,73,80,84.5,86,87]},
{"d":"2015-07-24","p":0,"t":[27.5,28.4,29.4,30.6,32.8,37],"h":[58,70,78,83.5,85.5,86.5]},
{"d":"2015-07-25","p":0,"t":[27.8,28.7,29.7,31,33.5,38],"h":[62,72,79,84,85.5,86.5]},
{"d":"2015-07-26","p":0,"t":[28,28.9,29.9,31.3,34,39],"h":[66,75,81,84.5,86,87]},
{"d":"2015-07-27","p":0,"t":[28.2,29,30,31.5,34.5,39.5],"h":[70,78,83,85.5,86.5,88]},
{"d":"2015-07-28","p":0,"t":[27.8,28.7,29.6,31,33.5,38.5],"h":[74,82,86,88,89.5,90.5]},
{"d":"2015-07-29","p":0,"t":[27.5,28.4,29.4,30.8,33,37.5],"h":[78,85,88.5,90,90.8,91.5]},
{"d":"2015-07-30","p":0,"t":[27.8,28.7,29.7,31.2,33.8,38.5],"h":[80,86,89,90.2,90.9,91.5]},
{"d":"2015-07-31","p":0,"t":[28,28.9,29.9,31.5,34.5,40],"h":[82,87,89.3,90.3,91,91.6]},
{"d":"2015-08-01","p":1.7,"t":[28.2,29,30,31.6,34.8,40.7],"h":[80,86,89,90.3,91,91.7]},
{"d":"2015-08-02","p":1.7,"t":[27.9,28.8,29.8,31.3,34,39.5],"h":[82,87,89.5,90.5,91.2,91.8]},
{"d":"2015-08-03","p":4.7,"t":[27.5,28.3,29.2,30.5,32.5,36],"h":[84,88,90,90.7,91.3,92]},
{"d":"2015-08-04","p":20.6,"t":[26.8,27.6,28.4,29.3,30.5,33],"h":[86,89,90.3,91,91.5,92]},
{"d":"2015-08-05","p":5.8,"t":[26.4,27.2,28,28.9,30,32],"h":[85,88.5,90,90.8,91.4,92]},
{"d":"2015-08-06","p":5.8,"t":[25.8,26.8,27.8,28.8,30.2,33],"h":[84,88,89.8,90.6,91.3,91.8]},
{"d":"2015-08-07","p":5.4,"t":[26.5,27.5,28.5,29.6,31.5,35],"h":[83,87.5,89.5,90.4,91,91.6]},
{"d":"2015-08-08","p":5.5,"t":[27.2,28.1,29,30.3,32.5,37],"h":[82,87,89.2,90.2,90.8,91.5]},
{"d":"2015-08-09","p":5.6,"t":[27.6,28.4,29.3,30.7,33.5,39],"h":[78,84,86.5,88,89,90]},
{"d":"2015-08-10","p":0,"t":[28,28.8,29.7,31.2,34.5,39.4],"h":[70,78,83,85.2,86,87]},
{"d":"2015-08-11","p":0,"t":[28.2,29,29.9,31.5,35,38.5],"h":[66,75,81,84.8,85.8,86.8]},
{"d":"2015-08-12","p":10.8,"t":[27.8,28.6,29.5,30.8,33,36.5],"h":[72,80,84,85.2,86,87]},
{"d":"2015-08-13","p":0,"t":[28,28.8,29.7,31.2,34,38],"h":[64,74,80,84.5,85.5,86.5]},
{"d":"2015-08-14","p":0,"t":[28.3,29.1,30,31.8,35,39.5],"h":[62,72,79,84.2,85.3,86.2]},
{"d":"2015-08-15","p":0,"t":[28.5,29.3,30.3,32.2,35.8,40.5],"h":[60,70,78,83.8,85,86]},
{"d":"2015-08-16","p":0,"t":[28.4,29.2,30.2,32,36,41.3],"h":[62,71,78,84,85.2,86.2]},
{"d":"2015-08-17","p":0,"t":[28.6,29.4,30.5,32.5,36.5,41.5],"h":[65,73,80,84.3,85.3,86.3]},
{"d":"2015-08-18","p":0,"t":[28.5,29.3,30.4,32.4,36.2,41],"h":[63,72,79,84,85.2,86]},
{"d":"2015-08-19","p":0,"t":[28.3,29.1,30.1,32,35.5,40.8],"h":[62,70,77,83.5,85,86]},
{"d":"2015-08-20","p":0,"t":[28,28.9,29.9,31.6,34.8,40],"h":[57,66,74,82,84.8,86]},
{"d":"2015-08-21","p":0,"t":[27.5,28.5,29.6,31.2,34,39],"h":[60,68,75,82,85,89]},
{"d":"2015-08-22","p":5.4,"t":[25.8,27,28.2,29.5,31.5,35],"h":[57,64,72,80,84,90]}
]},
"vconcat":[
{"width":580,"height":335,
 "title":{"text":"(a)","anchor":"start","frame":"group","font":"Liberation Serif","fontSize":19,"fontWeight":"bold","color":"#000","baseline":"middle","offset":0,"dx":-74,"dy":24},
 "resolve":{"axis":{"y":"independent"}},
 "layer":[
  {"data":{"name":"lev"},"mark":{"type":"rule","color":"#999","strokeWidth":1,"strokeDash":[2,2]},
   "encoding":{"y":{"field":"v","type":"quantitative","scale":{"domain":[0,120]},
     "axis":{"orient":"left","values":[0,4,8,12,16,20,24,28,32,36,40,44,48,52,56,60,64,68,72,76,80,84,88,92,96,100,104,108,112,116,120],"labels":false,"title":null,"domain":false,"tickSize":4,"tickColor":"#888"}}}},
  {"data":{"name":"lab"},"mark":{"type":"text","align":"left","baseline":"middle","font":"Liberation Serif","fontSize":16.5,"color":"#333"},
   "encoding":{"x":{"field":"d","type":"temporal"},"y":{"field":"v","type":"quantitative","axis":null},"text":{"field":"name"}}},
  {"data":{"name":"days"},"mark":{"type":"line","color":"#000","strokeWidth":1.1,"point":{"filled":true,"size":18,"color":"#000"}},
   "encoding":{
    "x":{"field":"d","type":"temporal","scale":{"type":"utc","domain":[{"year":2014,"month":8,"date":18,"utc":true},{"year":2015,"month":9,"date":22,"utc":true}]},
      "axis":{"values":[{"year":2014,"month":8,"date":18,"utc":true},{"year":2014,"month":10,"date":7,"utc":true},{"year":2014,"month":11,"date":26,"utc":true},{"year":2015,"month":1,"date":15,"utc":true},{"year":2015,"month":3,"date":6,"utc":true},{"year":2015,"month":4,"date":25,"utc":true},{"year":2015,"month":6,"date":14,"utc":true},{"year":2015,"month":8,"date":3,"utc":true},{"year":2015,"month":9,"date":22,"utc":true}],
       "format":"%-d-%b","title":"Date","tickSize":4,"labelPadding":4,"titlePadding":6,"labelFontSize":16,"titleFontSize":20,"labelOverlap":false,"domainColor":"#888","tickColor":"#888"}},
    "y":{"field":"p","type":"quantitative","scale":{"domain":[0,120]},
      "axis":{"orient":"left","values":[0,20,40,60,80,100,120],"labelOverlap":false,"title":"Precipitation (mm)","tickSize":4,"labelPadding":2,"titlePadding":18,"labelFontSize":16,"titleFontSize":18,"domainColor":"#888","tickColor":"#888"}}}}
 ]},
{"width":580,"height":365,
 "title":{"text":"(b)","anchor":"start","frame":"group","font":"Liberation Serif","fontSize":19,"fontWeight":"bold","color":"#000","baseline":"middle","offset":0,"dx":-74,"dy":4},
 "data":{"name":"days"},
 "transform":[{"flatten":["t"]}],
 "mark":{"type":"point","filled":true,"shape":"square","size":6,"color":"#000","opacity":1},
 "encoding":{
  "x":{"field":"d","type":"temporal","scale":{"type":"utc","domain":[{"year":2014,"month":8,"date":18,"utc":true},{"year":2015,"month":9,"date":22,"utc":true}]},
    "axis":{"values":[{"year":2014,"month":8,"date":18,"utc":true},{"year":2014,"month":10,"date":7,"utc":true},{"year":2014,"month":11,"date":26,"utc":true},{"year":2015,"month":1,"date":15,"utc":true},{"year":2015,"month":3,"date":6,"utc":true},{"year":2015,"month":4,"date":25,"utc":true},{"year":2015,"month":6,"date":14,"utc":true},{"year":2015,"month":8,"date":3,"utc":true},{"year":2015,"month":9,"date":22,"utc":true}],
     "format":"%-d-%b","title":"Date","tickSize":5,"labelPadding":5,"titlePadding":5,"labelFontSize":16,"titleFontSize":20,"labelOverlap":false,"domainColor":"#444","tickColor":"#444"}},
  "y":{"field":"t","type":"quantitative","scale":{"domain":[0,50]},
    "axis":{"values":[0,5,10,15,20,25,30,35,40,45,50],"labelOverlap":false,"title":"Air temperature (ºC)","tickSize":4,"labelPadding":6,"titlePadding":8,"labelFontSize":16,"titleFontSize":20,"domainColor":"#444","tickColor":"#444"}}}},
{"width":565,"height":390,
 "title":{"text":"(c)","anchor":"start","frame":"group","font":"Liberation Serif","fontSize":19,"fontWeight":"bold","color":"#000","baseline":"middle","offset":0,"dx":-74,"dy":26},
 "data":{"name":"days"},
 "transform":[{"flatten":["h"]}],
 "mark":{"type":"point","filled":true,"shape":"square","size":6,"color":"#000","opacity":1},
 "encoding":{
  "x":{"field":"d","type":"temporal","scale":{"type":"utc","domain":[{"year":2014,"month":8,"date":18,"utc":true},{"year":2015,"month":9,"date":22,"utc":true}]},
    "axis":{"values":[{"year":2014,"month":8,"date":18,"utc":true},{"year":2014,"month":10,"date":7,"utc":true},{"year":2014,"month":11,"date":26,"utc":true},{"year":2015,"month":1,"date":15,"utc":true},{"year":2015,"month":3,"date":6,"utc":true},{"year":2015,"month":4,"date":25,"utc":true},{"year":2015,"month":6,"date":14,"utc":true},{"year":2015,"month":8,"date":3,"utc":true},{"year":2015,"month":9,"date":22,"utc":true}],
     "format":"%-d-%b","title":"Date","tickSize":5,"labelPadding":6,"titlePadding":5,"labelFontSize":16,"titleFontSize":21,"labelOverlap":false,"domainColor":"#444","tickColor":"#444"}},
  "y":{"field":"h","type":"quantitative","scale":{"domain":[0,100]},
    "axis":{"values":[0,20,40,60,80,100],"labelExpr":"datum.value + '%'","labelOverlap":false,"title":"Relative humidity (%)","tickSize":4,"labelPadding":7,"titlePadding":6,"labelFont":"Liberation Sans Narrow, DejaVu Sans Condensed, Liberation Sans","labelFontSize":15,"titleFontSize":21,"domainColor":"#444","tickColor":"#444"}}}}
]
}
